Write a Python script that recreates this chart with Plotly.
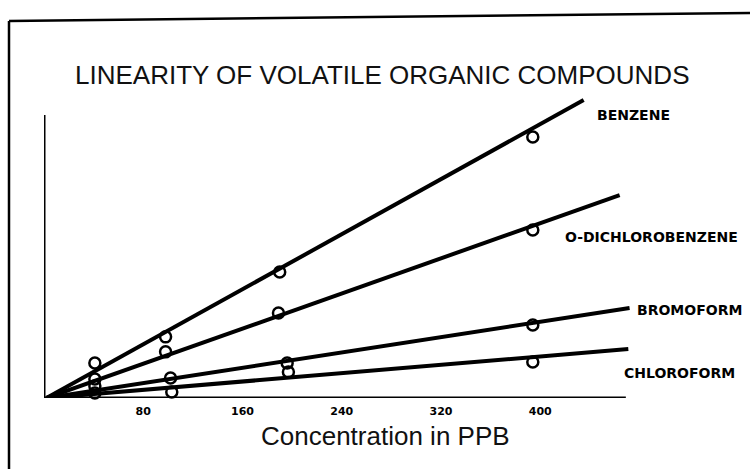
import plotly.graph_objects as go

# ---------------- data ----------------
tick_values = [80, 160, 240, 320, 400]
tick_labels = ["80", "160", "240", "320", "400"]

compounds = ["BENZENE", "O-DICHLOROBENZENE", "BROMOFORM", "CHLOROFORM"]

benzene_x = [41, 98, 190, 394]
benzene_y = [12.4, 21.6, 44.5, 92.2]
dichloro_x = [41, 98, 189, 394]
dichloro_y = [6.7, 16.3, 30.0, 59.4]
bromo_x = [41, 102, 196, 394]
bromo_y = [4.2, 7.1, 12.4, 25.8]
chloro_x = [41, 103, 197, 394]
chloro_y = [1.8, 2.1, 9.2, 12.7]

# fitted calibration lines: start and end points
fit_x = {"BENZENE": [2, 435], "O-DICHLOROBENZENE": [2, 464],
         "BROMOFORM": [2, 472], "CHLOROFORM": [2, 471]}
fit_y = {"BENZENE": [0, 105.3], "O-DICHLOROBENZENE": [0, 71.7],
         "BROMOFORM": [0, 31.8], "CHLOROFORM": [0, 17.3]}

points_x = {"BENZENE": benzene_x, "O-DICHLOROBENZENE": dichloro_x,
            "BROMOFORM": bromo_x, "CHLOROFORM": chloro_x}
points_y = {"BENZENE": benzene_y, "O-DICHLOROBENZENE": dichloro_y,
            "BROMOFORM": bromo_y, "CHLOROFORM": chloro_y}

x_axis_end = 469
y_axis_end = 100

# ---------------- layout geometry ----------------
W, H = 750, 469
ML, MR, MT, MB = 44, 116, 95, 71
PW, PH = W - ML - MR, H - MT - MB
X_MAX = PW / 1.2406
Y_MAX = PH / 2.83


def px(x):
    return (x - ML) / PW


def py(y):
    return (H - MB - y) / PH


label_pos = {"BENZENE": (595, 115), "O-DICHLOROBENZENE": (563, 237),
             "BROMOFORM": (635, 310), "CHLOROFORM": (622, 373)}

fig = go.Figure()

for name in compounds:
    fig.add_trace(go.Scatter(
        x=fit_x[name], y=fit_y[name], mode="lines",
        line=dict(color="black", width=4), showlegend=False, hoverinfo="skip"))
    fig.add_trace(go.Scatter(
        x=points_x[name], y=points_y[name], mode="markers",
        marker=dict(symbol="circle-open", size=11, color="black",
                    line=dict(width=2.5, color="black")),
        showlegend=False, name=name, cliponaxis=False))

annotations = []
for name in compounds:
    lx, ly = label_pos[name]
    annotations.append(dict(
        text=name, x=px(lx), y=py(ly), xref="paper", yref="paper",
        xanchor="left", yanchor="middle", showarrow=False,
        font=dict(family="DejaVu Sans", size=14, color="black", weight="bold")))

annotations.append(dict(
    text="LINEARITY OF VOLATILE ORGANIC COMPOUNDS", x=px(382), y=py(75),
    xref="paper", yref="paper", xanchor="center", yanchor="middle",
    showarrow=False, font=dict(family="Liberation Sans", size=26, color="#111")))
annotations.append(dict(
    text="Concentration in PPB", x=px(385), y=py(436),
    xref="paper", yref="paper", xanchor="center", yanchor="middle",
    showarrow=False, font=dict(family="Liberation Sans", size=26, color="#111")))

shapes = [
    # axes
    dict(type="line", xref="x", yref="y", x0=0, y0=0, x1=x_axis_end, y1=0,
         line=dict(color="black", width=3)),
    dict(type="line", xref="x", yref="y", x0=0, y0=0, x1=0, y1=y_axis_end,
         line=dict(color="black", width=3)),
    # frame of the figure panel
    dict(type="line", xref="paper", yref="paper", x0=px(9), y0=py(21),
         x1=px(750), y1=py(13), line=dict(color="black", width=2.5)),
    dict(type="line", xref="paper", yref="paper", x0=px(9), y0=py(21),
         x1=px(9), y1=py(472), line=dict(color="black", width=2.5)),
]

fig.update_layout(
    width=W, height=H,
    margin=dict(l=ML, r=MR, t=MT, b=MB, pad=0),
    paper_bgcolor="white", plot_bgcolor="white",
    showlegend=False,
    annotations=annotations, shapes=shapes,
    xaxis=dict(range=[0, X_MAX], showgrid=False, zeroline=False, showline=False,
               tickmode="array", tickvals=tick_values, ticktext=tick_labels,
               ticks="", ticklabelstandoff=5,
               tickfont=dict(family="DejaVu Sans", size=11, color="black", weight="bold")),
    yaxis=dict(range=[0, Y_MAX], showgrid=False, zeroline=False, showline=False,
               showticklabels=False, ticks=""),
)

fig.write_html(
    "out.html",
    config={"displayModeBar": False},
    post_script="document.body.style.margin='0';document.body.style.overflow='hidden';",
)
